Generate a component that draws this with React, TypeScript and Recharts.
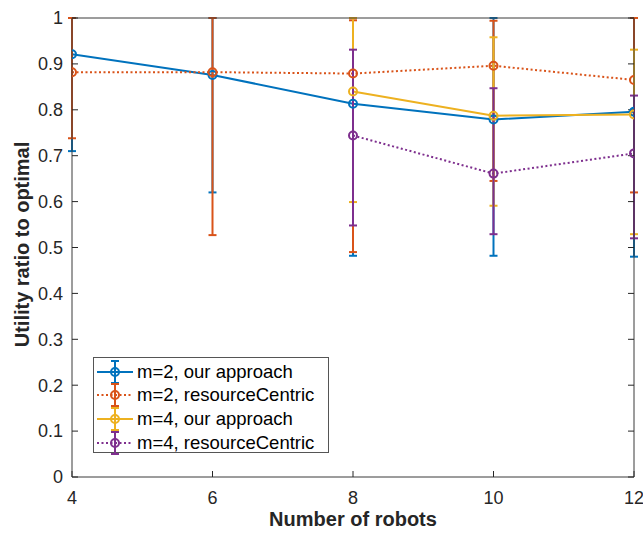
import React from 'react';
import { LineChart, Line, XAxis, YAxis, ErrorBar, Legend } from 'recharts';

// number of robots (x) and tick values
const robots = [4, 6, 8, 10, 12];
const xTicks = [4, 6, 8, 10, 12];
const yTicks = [0, 0.1, 0.2, 0.3, 0.4, 0.5, 0.6, 0.7, 0.8, 0.9, 1];

// m=2, our approach
const oursM2 = [0.921, 0.876, 0.813, 0.779, 0.796];
const oursM2Low = [0.71, 0.62, 0.482, 0.482, 0.48];
const oursM2High = [1, 1, 1, 1, 1];

// m=2, resourceCentric
const rcM2 = [0.882, 0.882, 0.879, 0.896, 0.865];
const rcM2Low = [0.738, 0.527, 0.49, 0.645, 0.62];
const rcM2High = [1, 1, 0.995, 0.994, 1];

// m=4, our approach (no runs below 8 robots)
const oursM4 = [null, null, 0.84, 0.787, 0.79];
const oursM4Low = [null, null, 0.599, 0.591, 0.529];
const oursM4High = [null, null, 1, 0.958, 0.931];

// m=4, resourceCentric
const rcM4 = [null, null, 0.744, 0.661, 0.705];
const rcM4Low = [null, null, 0.548, 0.529, 0.52];
const rcM4High = [null, null, 0.931, 0.847, 0.831];

const FONT = '"Liberation Sans", Arial, Helvetica, sans-serif';
const INK = '#262626';

type Pt = { n: number; v: number; err: [number, number] };

const build = (mean: (number | null)[], low: (number | null)[], high: (number | null)[]): Pt[] =>
  robots
    .map((n, i) => {
      const v = mean[i];
      if (v == null) return null;
      return { n, v, err: [v - (low[i] as number), (high[i] as number) - v] as [number, number] };
    })
    .filter((p): p is Pt => p !== null);

const series = [
  { name: 'm=2, our approach', color: '#0072BD', dash: undefined, data: build(oursM2, oursM2Low, oursM2High) },
  { name: 'm=2, resourceCentric', color: '#D95319', dash: '2 2.5', data: build(rcM2, rcM2Low, rcM2High) },
  { name: 'm=4, our approach', color: '#EDB120', dash: undefined, data: build(oursM4, oursM4Low, oursM4High) },
  { name: 'm=4, resourceCentric', color: '#7E2F8E', dash: '2 2.5', data: build(rcM4, rcM4Low, rcM4High) },
];

const LegendBox = () => (
  <div
    style={{
      border: '1px solid #555',
      background: '#fff',
      width: 236,
      height: 96,
      boxSizing: 'border-box',
      paddingTop: 2,
      fontFamily: FONT,
      fontSize: 18.5,
      color: '#000',
    }}
  >
    {series.map((s) => (
      <div key={s.name} style={{ display: 'flex', alignItems: 'center', height: 23.6 }}>
        <svg width={42} height={24} style={{ flex: 'none' }}>
          <line x1={3} y1={12} x2={39} y2={12} stroke={s.color} strokeWidth={2} strokeDasharray={s.dash} />
          <line x1={21} y1={1} x2={21} y2={23} stroke={s.color} strokeWidth={2} />
          <line x1={17} y1={1} x2={25} y2={1} stroke={s.color} strokeWidth={2} />
          <line x1={17} y1={23} x2={25} y2={23} stroke={s.color} strokeWidth={2} />
          <circle cx={21} cy={12} r={4} fill="none" stroke={s.color} strokeWidth={2} />
        </svg>
        <span style={{ marginLeft: 1, whiteSpace: 'nowrap' }}>{s.name}</span>
      </div>
    ))}
  </div>
);

const YTitle = (props: any) => {
  const { x, y, height } = props.viewBox;
  const cx = x + 22;
  const cy = y + height / 2 - 3;
  return (
    <text
      x={cx}
      y={cy}
      dy="0.355em"
      transform={`rotate(-90, ${cx}, ${cy})`}
      textAnchor="middle"
      fontFamily={FONT}
      fontSize={20}
      fontWeight="bold"
      fill={INK}
    >
      Utility ratio to optimal
    </text>
  );
};

const XTitle = (props: any) => {
  const { x, y, width, height } = props.viewBox;
  return (
    <text
      x={x + width / 2}
      y={y + height - 9}
      textAnchor="middle"
      fontFamily={FONT}
      fontSize={20}
      fontWeight="bold"
      fill={INK}
    >
      Number of robots
    </text>
  );
};

const tickStyle = { fontSize: 18, fill: INK, fontFamily: FONT };
const axisLine = { stroke: '#3a3a3a', strokeWidth: 1 };

export default function App() {
  return (
    <div style={{ position: 'absolute', left: 0, top: 0, width: 643, height: 535, background: '#fff' }}>
      <LineChart width={643} height={535} margin={{ top: 17, right: 8, bottom: 0, left: 0 }}>
        <XAxis
          dataKey="n"
          type="number"
          domain={[4, 12]}
          ticks={xTicks}
          allowDataOverflow
          height={58}
          tickSize={-6}
          tickMargin={20}
          tick={tickStyle}
          axisLine={axisLine}
          tickLine={{ stroke: INK }}
          label={{ content: XTitle }}
        />
        <XAxis
          xAxisId="top"
          orientation="top"
          type="number"
          domain={[4, 12]}
          ticks={xTicks}
          allowDataOverflow
          height={1}
          tickSize={-6}
          tickFormatter={() => ''}
          axisLine={axisLine}
          tickLine={{ stroke: INK }}
        />
        <YAxis
          type="number"
          domain={[0, 1]}
          ticks={yTicks}
          allowDataOverflow
          width={72}
          tickSize={-6}
          tickMargin={15}
          tick={tickStyle}
          axisLine={axisLine}
          tickLine={{ stroke: INK }}
          label={{ content: YTitle }}
        />
        <YAxis
          yAxisId="right"
          orientation="right"
          type="number"
          domain={[0, 1]}
          ticks={yTicks}
          allowDataOverflow
          width={1}
          tickSize={-6}
          tickFormatter={() => ''}
          axisLine={axisLine}
          tickLine={{ stroke: INK }}
        />
        {series.map((s) => (
          <Line
            key={s.name}
            data={s.data}
            dataKey="v"
            name={s.name}
            stroke={s.color}
            strokeWidth={2}
            strokeDasharray={s.dash}
            dot={{ r: 4, strokeWidth: 2, fill: 'none', stroke: s.color, strokeDasharray: 'none' }}
            activeDot={false}
            isAnimationActive={false}
          >
            <ErrorBar dataKey="err" direction="y" width={4} stroke={s.color} strokeWidth={2} isAnimationActive={false} />
          </Line>
        ))}
        <Legend
          layout="vertical"
          align="center"
          verticalAlign="middle"
          content={LegendBox}
          wrapperStyle={{ left: 93, top: 357, width: 'auto' }}
        />
      </LineChart>
    </div>
  );
}
